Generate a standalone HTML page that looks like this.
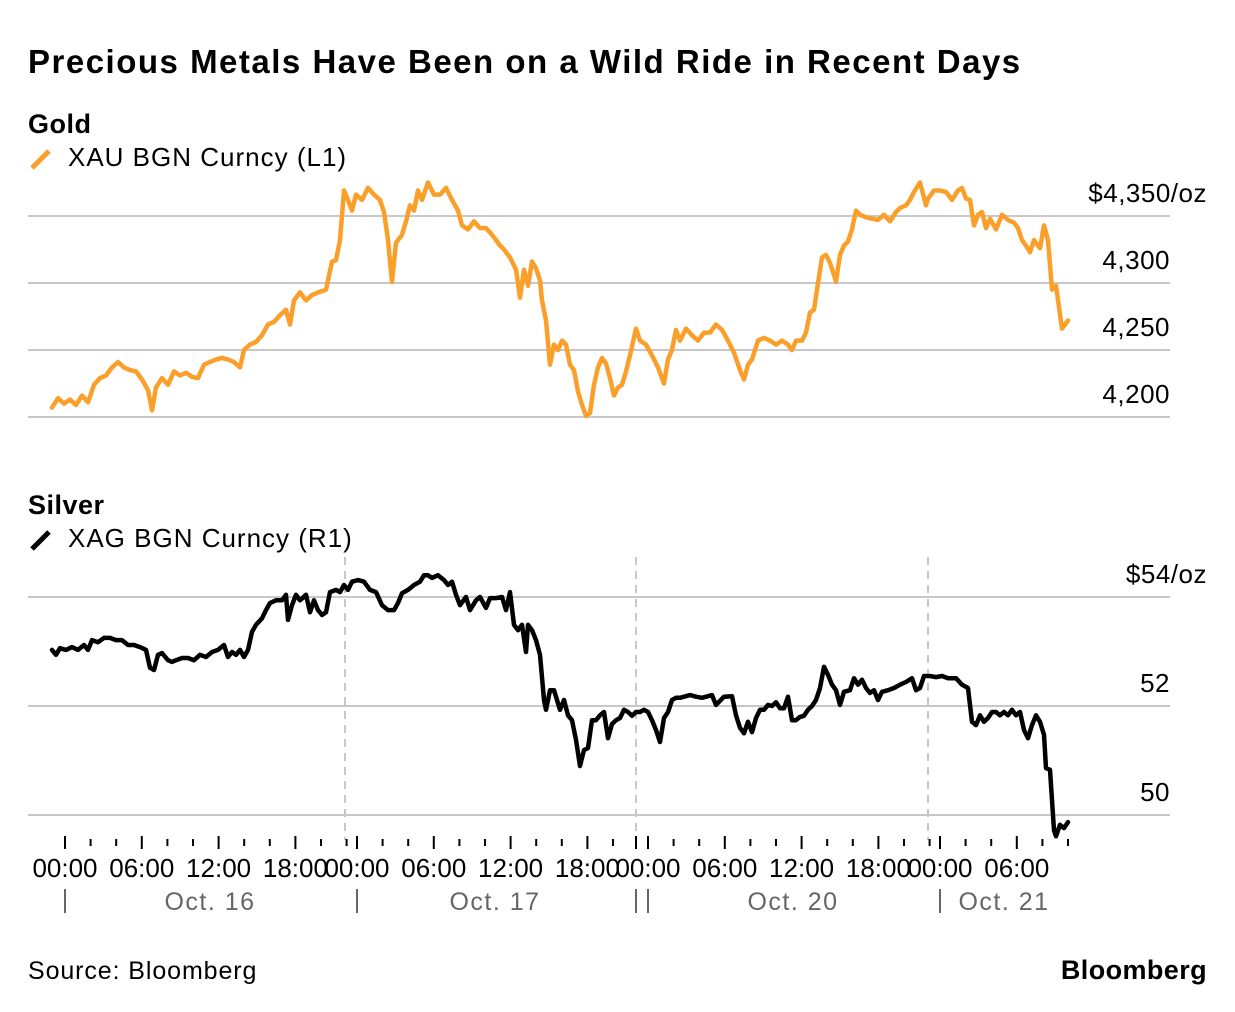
<!DOCTYPE html>
<html><head><meta charset="utf-8">
<style>
body{margin:0;background:#fff;}
svg{display:block;font-family:"Liberation Sans",sans-serif;}
</style></head>
<body>
<svg id="chart" width="1235" height="1012" viewBox="0 0 1235 1012">
<text x="28" y="73" font-size="33" font-weight="bold" fill="#000" letter-spacing="1.5">Precious Metals Have Been on a Wild Ride in Recent Days</text>
<text x="28" y="133" font-size="27" font-weight="bold" fill="#000" letter-spacing="0.5">Gold</text>
<line x1="32" y1="168" x2="49" y2="151" stroke="#f99f2a" stroke-width="5"/>
<text x="68" y="166" font-size="26" fill="#000" letter-spacing="1">XAU BGN Curncy (L1)</text>
<text x="28" y="514" font-size="27" font-weight="bold" fill="#000" letter-spacing="0.5">Silver</text>
<line x1="32" y1="549" x2="49" y2="532" stroke="#000" stroke-width="5"/>
<text x="68" y="547" font-size="26" fill="#000" letter-spacing="1">XAG BGN Curncy (R1)</text>
<g id="gold-grid"></g><g id="silver-grid"></g><g id="xaxis"></g>
<g id="series"></g>
<text x="28" y="979" font-size="25" fill="#000" letter-spacing="0.9">Source: Bloomberg</text>
<text x="1207" y="979" font-size="27" font-weight="bold" fill="#000" text-anchor="end" letter-spacing="0.4">Bloomberg</text>
</svg>
<script>
const goldTimes=[0,6,12,18,24,30,36,42,48,54,60,66,72,78,84,90,96,100,104,110,116,122,128,134,140,146,152,158,164,170,176,182,188,192,198,204,210,216,222,228,234,238,242,248,254,260,266,274,280,284,288,292,296,300,304,310,316,322,328,332,336,340,344,350,354,358,362,366,370,376,382,388,394,400,406,410,416,422,428,434,440,444,448,452,458,464,468,472,476,480,484,488,490,494,498,502,506,510,514,518,522,526,530,534,538,542,546,550,554,558,562,566,570,574,578,584,588,594,600,606,612,616,620,624,628,634,640,646,652,658,664,670,676,682,688,692,696,700,706,712,718,724,730,736,740,744,750,754,758,762,766,770,774,778,782,784,788,792,796,800,804,808,814,820,826,832,838,844,848,854,858,862,868,874,876,882,888,894,900,906,910,914,918,922,926,930,934,938,944,950,956,962,966,970,974,978,982,988,992,996,1000,1004,1010,1016];
const goldValues=[4207,4214,4210,4213,4209,4216,4211,4224,4229,4231,4237,4241,4237,4235,4234,4228,4220,4205,4222,4229,4224,4234,4231,4233,4230,4229,4239,4241,4243,4244,4243,4241,4237,4250,4254,4256,4261,4269,4271,4276,4280,4269,4287,4293,4287,4291,4293,4295,4316,4317,4332,4369,4362,4354,4366,4362,4371,4366,4362,4353,4332,4301,4330,4336,4346,4358,4354,4369,4362,4375,4366,4366,4371,4362,4354,4343,4340,4346,4341,4341,4336,4332,4328,4325,4319,4310,4289,4310,4298,4316,4311,4302,4287,4272,4239,4254,4250,4257,4254,4239,4235,4219,4209,4201,4203,4224,4237,4244,4240,4229,4216,4222,4224,4234,4246,4266,4257,4254,4246,4237,4225,4243,4250,4265,4257,4266,4261,4257,4263,4263,4269,4265,4257,4248,4235,4228,4239,4243,4257,4259,4257,4254,4257,4254,4250,4257,4257,4263,4278,4280,4300,4319,4321,4315,4306,4301,4321,4328,4331,4340,4354,4351,4349,4348,4347,4351,4346,4353,4356,4358,4362,4368,4375,4358,4363,4369,4369,4368,4362,4369,4371,4363,4362,4343,4351,4353,4341,4348,4340,4351,4347,4345,4341,4332,4328,4323,4332,4326,4343,4332,4295,4298,4266,4272,4270];
const silverTimes=[0,4,8,14,20,26,32,36,40,46,52,58,64,70,76,82,88,94,98,102,106,110,116,120,124,130,136,142,148,154,160,166,172,176,180,184,188,192,196,200,204,210,214,218,224,230,234,236,240,244,248,254,258,262,266,270,274,278,284,288,292,296,300,306,312,318,324,330,336,342,346,350,356,362,368,372,376,380,386,392,396,400,404,408,414,418,424,428,434,438,444,450,454,458,462,466,470,474,476,480,484,488,492,494,498,502,508,512,516,520,524,528,532,536,540,544,548,552,556,560,564,568,572,576,580,584,588,592,596,600,604,608,612,616,620,624,628,632,638,644,650,656,660,664,672,680,684,688,692,696,700,704,708,712,716,720,724,728,732,736,740,744,748,752,756,760,764,768,772,776,780,784,788,792,798,802,806,810,814,818,822,826,830,836,842,848,854,860,864,868,872,878,884,890,896,904,910,916,920,924,928,932,936,940,944,948,952,956,960,964,968,972,976,980,984,988,992,994,998,1002,1004,1008,1012,1016];
const silverValues=[53.03,52.94,53.06,53.03,53.08,53.03,53.12,53.03,53.21,53.17,53.25,53.25,53.21,53.21,53.12,53.12,53.08,53.03,52.70,52.66,52.94,52.97,52.84,52.81,52.84,52.88,52.88,52.84,52.94,52.90,52.99,53.03,53.12,52.90,52.99,52.94,53.03,52.90,53.03,53.36,53.49,53.61,53.76,53.89,53.94,53.94,54.04,53.58,53.85,54.04,53.94,54.04,53.72,53.94,53.76,53.67,53.72,54.09,54.13,54.09,54.22,54.13,54.28,54.31,54.28,54.13,54.09,53.85,53.76,53.76,53.89,54.07,54.13,54.22,54.28,54.40,54.40,54.35,54.40,54.31,54.22,54.28,54.04,53.85,54.00,53.76,53.94,54.00,53.80,53.98,53.98,54.00,53.76,54.09,53.49,53.39,53.49,52.99,53.49,53.39,53.21,52.94,52.11,51.93,52.29,52.29,51.93,52.11,51.83,51.74,51.38,50.90,51.19,51.23,51.74,51.74,51.83,51.89,51.41,51.67,51.74,51.78,51.93,51.89,51.82,51.89,51.89,51.93,51.89,51.74,51.56,51.34,51.78,51.89,52.11,52.15,52.15,52.17,52.20,52.17,52.15,52.18,52.20,52.02,52.17,52.18,51.83,51.60,51.50,51.71,51.52,51.78,51.93,51.93,52.02,52.00,52.07,51.96,51.96,52.17,51.74,51.74,51.80,51.82,51.93,52.00,52.11,52.33,52.72,52.57,52.39,52.29,52.02,52.26,52.29,52.51,52.39,52.48,52.33,52.24,52.29,52.11,52.26,52.29,52.33,52.39,52.44,52.51,52.29,52.33,52.55,52.55,52.53,52.55,52.51,52.51,52.39,52.33,51.71,51.65,51.83,51.71,51.78,51.89,51.89,51.83,51.89,51.83,51.93,51.83,51.89,51.56,51.41,51.65,51.83,51.71,51.47,50.86,50.83,49.72,49.61,49.82,49.76,49.87];
const goldTicks=[4200,4250,4300,4350];
const goldTickLabels=["4,200","4,250","4,300","$4,350/oz"];
const silverTicks=[50,52,54];
const silverTickLabels=["50","52","$54/oz"];
const timeLabels=["00:00","06:00","12:00","18:00"];
const dayLabels=["Oct. 16","Oct. 17","Oct. 20","Oct. 21"];

const NS="http://www.w3.org/2000/svg";
function mk(tag,attrs,parent){const e=document.createElementNS(NS,tag);for(const k in attrs)e.setAttribute(k,attrs[k]);parent.appendChild(e);return e;}
const xScale=t=>52+t;
const goldY=v=>216+(4350-v)*67/50;
const silverY=v=>597+(54-v)*54.5;

const gg=document.getElementById('gold-grid');
goldTicks.forEach((v,i)=>{
  const y=goldY(v);
  const l=mk('line',{x1:28,x2:1170,y1:y,y2:y,stroke:'#c8c8c8','stroke-width':2},gg);
  
  
  const lab=goldTickLabels[i];
  const t=mk('text',{x:lab.includes('/')?1207:1170,y:y-14,'font-size':26,'text-anchor':'end',fill:'#000','letter-spacing':'0.5'},gg);
  t.textContent=lab;
  
  
});
const sg=document.getElementById('silver-grid');
silverTicks.forEach((v,i)=>{
  const y=silverY(v);
  const l=mk('line',{x1:28,x2:1170,y1:y,y2:y,stroke:'#c8c8c8','stroke-width':2},sg);
  
  
  const lab=silverTickLabels[i];
  const t=mk('text',{x:lab.includes('/')?1207:1170,y:y-14,'font-size':26,'text-anchor':'end',fill:'#000','letter-spacing':'0.5'},sg);
  t.textContent=lab;
  
  
});
[345,636,928].forEach(x=>{
  const l=mk('line',{x1:x,x2:x,y1:557,y2:840,stroke:'#c8c8c8','stroke-width':2,'stroke-dasharray':'8,6'},sg);
  
  
});

const xa=document.getElementById('xaxis');
const dayStarts=[65,357,648,940];
const dayCounts=[12,11,12,6];
const step=25.6;
dayStarts.forEach((s,d)=>{
  for(let k=0;k<dayCounts[d];k++){
    const x=s+k*step,maj=k%3===0;
    const l=mk('line',{x1:x,x2:x,y1:maj?836:839,y2:maj?849:846,stroke:'#000','stroke-width':2},xa);
    
    
    if(maj){
      const t=mk('text',{x:x,y:877,'font-size':26,'text-anchor':'middle',fill:'#000'},xa);
      t.textContent=timeLabels[k/3];
      
      
    }
  }
  const sep=mk('line',{x1:s,x2:s,y1:889,y2:913,stroke:'#666','stroke-width':2},xa);
  
  
});
const l2=mk('line',{x1:636,x2:636,y1:836,y2:849,stroke:'#000','stroke-width':2},xa);


const sep2=mk('line',{x1:636,x2:636,y1:889,y2:913,stroke:'#666','stroke-width':2},xa);


[210,495,793,1004].forEach((x,i)=>{
  const t=mk('text',{x:x,y:910,'font-size':25,'text-anchor':'middle',fill:'#666','letter-spacing':'1.5'},xa);
  t.textContent=dayLabels[i];
  
  
});

const sr=document.getElementById('series');
const gp=mk('path',{d:goldTimes.map((t,i)=>(i?'L':'M')+xScale(t).toFixed(1)+','+goldY(goldValues[i]).toFixed(1)).join(''),fill:'none',stroke:'#f99f2a','stroke-width':4.5,'stroke-linejoin':'round','stroke-linecap':'round'},sr);


const sp=mk('path',{d:silverTimes.map((t,i)=>(i?'L':'M')+xScale(t).toFixed(1)+','+silverY(silverValues[i]).toFixed(1)).join(''),fill:'none',stroke:'#000','stroke-width':4.5,'stroke-linejoin':'round','stroke-linecap':'round'},sr);


</script>
</body></html>
